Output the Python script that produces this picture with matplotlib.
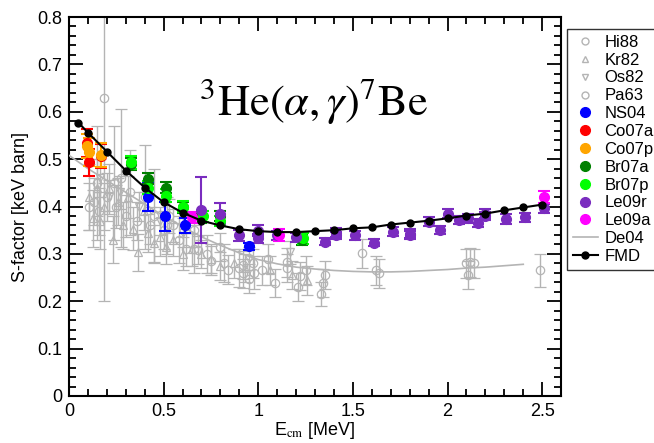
import matplotlib
matplotlib.use("Agg")
import matplotlib.pyplot as plt
from matplotlib.lines import Line2D
from matplotlib.ticker import MultipleLocator

plt.rcParams['font.family'] = ['Liberation Sans', 'DejaVu Sans']
plt.rcParams['mathtext.fontset'] = 'stix'

# --- older measurements (grey, open symbols) ---
hi88_E = [0.107, 0.13, 0.16, 0.20, 0.25, 0.30, 0.36, 0.43, 0.50, 0.53, 0.55, 0.62, 0.66,
          0.68, 0.75, 0.80, 0.84, 0.92, 0.92, 0.95, 0.97, 1.02, 1.05, 1.09, 1.15, 1.15,
          1.21, 1.22, 1.25, 1.33, 1.34, 1.35, 1.55, 1.62, 1.64, 2.10, 2.11, 2.12, 2.14, 2.49]
hi88_S = [0.40, 0.41, 0.39, 0.42, 0.40, 0.38, 0.37, 0.36, 0.35, 0.38, 0.36, 0.31, 0.35,
          0.308, 0.286, 0.314, 0.267, 0.276, 0.259, 0.248, 0.28, 0.265, 0.29, 0.238, 0.282, 0.27,
          0.23, 0.253, 0.265, 0.215, 0.238, 0.255, 0.301, 0.265, 0.259, 0.28, 0.255, 0.282, 0.28, 0.265]
hi88_err = [0.05, 0.05, 0.05, 0.05, 0.045, 0.045, 0.04, 0.04, 0.04, 0.035, 0.035, 0.035, 0.035,
            0.03, 0.03, 0.03, 0.03, 0.03, 0.03, 0.03, 0.03, 0.03, 0.03, 0.03, 0.03, 0.03,
            0.03, 0.03, 0.03, 0.025, 0.03, 0.03, 0.03, 0.03, 0.03, 0.03, 0.03, 0.03, 0.03, 0.035]

kr82_E = [0.107, 0.126, 0.148, 0.165, 0.186, 0.21, 0.235, 0.26, 0.285, 0.31, 0.34, 0.365,
          0.395, 0.42, 0.45, 0.48, 0.51, 0.55, 0.60, 0.65, 0.70, 0.75, 0.80, 0.87, 0.93,
          1.06, 1.18, 1.26]
kr82_S = [0.42, 0.375, 0.44, 0.37, 0.40, 0.44, 0.33, 0.41, 0.36, 0.42, 0.353, 0.303,
          0.39, 0.345, 0.322, 0.335, 0.314, 0.33, 0.30, 0.31, 0.30, 0.29, 0.275, 0.28, 0.27,
          0.265, 0.255, 0.244]
kr82_err = [0.07, 0.06, 0.06, 0.06, 0.05, 0.05, 0.05, 0.05, 0.05, 0.045, 0.045, 0.04,
            0.04, 0.04, 0.04, 0.04, 0.035, 0.035, 0.035, 0.035, 0.03, 0.03, 0.03, 0.03, 0.03,
            0.03, 0.03, 0.03]

os82_E = [0.165, 0.21, 0.27, 0.37, 0.48, 0.60, 0.95, 1.17]
os82_S = [0.46, 0.42, 0.43, 0.40, 0.37, 0.345, 0.29, 0.303]
os82_err = [0.04, 0.035, 0.035, 0.03, 0.03, 0.03, 0.025, 0.025]

pa63_E = [0.185, 0.148, 0.24, 0.275, 0.32, 0.40, 0.45, 0.52, 0.58, 0.66, 0.73, 0.82, 0.90, 0.98]
pa63_S = [0.63, 0.45, 0.45, 0.46, 0.43, 0.42, 0.38, 0.36, 0.33, 0.31, 0.30, 0.28, 0.27, 0.26]
pa63_err = [0.43, 0.12, 0.12, 0.145, 0.09, 0.11, 0.10, 0.06, 0.05, 0.05, 0.04, 0.04, 0.04, 0.035]

# --- modern measurements (coloured, filled symbols) ---
ns04_E = [0.42, 0.506, 0.615, 0.951]
ns04_S = [0.420, 0.379, 0.360, 0.316]
ns04_err = [0.03, 0.03, 0.015, 0.008]

co07a_E = [0.093, 0.106, 0.170]
co07a_S = [0.534, 0.493, 0.507]
co07a_err = [0.03, 0.028, 0.025]

co07p_E = [0.093, 0.106, 0.170]
co07p_S = [0.527, 0.515, 0.508]
co07p_err = [0.025, 0.03, 0.025]

br07a_E = [0.33, 0.42, 0.51, 0.60, 0.70, 0.80, 1.23]
br07a_S = [0.490, 0.459, 0.440, 0.398, 0.375, 0.380, 0.330]
br07a_err = [0.012, 0.012, 0.012, 0.011, 0.010, 0.010, 0.012]

br07p_E = [0.33, 0.42, 0.51, 0.60, 0.71, 0.80, 1.235]
br07p_S = [0.493, 0.440, 0.423, 0.400, 0.379, 0.370, 0.333]
br07p_err = [0.014, 0.014, 0.013, 0.012, 0.012, 0.011, 0.012]

le09r_E = [0.70, 0.80, 0.90, 1.00, 1.00, 1.10, 1.20, 1.35, 1.41, 1.41, 1.51, 1.61, 1.71,
           1.80, 1.80, 1.90, 1.96, 2.00, 2.06, 2.11, 2.16, 2.20, 2.20, 2.31, 2.41, 2.51]
le09r_S = [0.393, 0.385, 0.339, 0.349, 0.333, 0.339, 0.335, 0.326, 0.345, 0.339, 0.339,
           0.324, 0.347, 0.343, 0.340, 0.368, 0.350, 0.385, 0.372, 0.375, 0.365, 0.385,
           0.380, 0.374, 0.377, 0.396]
le09r_err = [0.07, 0.022, 0.012, 0.012, 0.01, 0.01, 0.01, 0.008, 0.01, 0.008, 0.01, 0.008,
             0.01, 0.01, 0.008, 0.01, 0.008, 0.01, 0.008, 0.01, 0.008, 0.01, 0.008, 0.01,
             0.01, 0.01]

le09a_E = [0.65, 1.11, 2.51]
le09a_S = [0.377, 0.340, 0.420]
le09a_err = [0.012, 0.012, 0.013]

# --- theory curves ---
de04_E = [0.0, 0.1, 0.2, 0.3, 0.4, 0.5, 0.6, 0.7, 0.8, 0.9, 1.0, 1.1, 1.2, 1.3, 1.4,
          1.5, 1.6, 1.7, 1.8, 1.9, 2.0, 2.1, 2.2, 2.3, 2.4]
de04_S = [0.508, 0.480, 0.455, 0.430, 0.405, 0.380, 0.357, 0.336, 0.318, 0.302, 0.288,
          0.279, 0.272, 0.268, 0.265, 0.263, 0.262, 0.262, 0.263, 0.265, 0.267, 0.270,
          0.272, 0.275, 0.278]

fmd_E = [0.05, 0.1, 0.2, 0.3, 0.4, 0.5, 0.6, 0.7, 0.8, 0.9, 1.0, 1.1, 1.2, 1.3, 1.4,
         1.5, 1.6, 1.7, 1.8, 1.9, 2.0, 2.1, 2.2, 2.3, 2.4, 2.5]
fmd_S = [0.577, 0.556, 0.516, 0.476, 0.440, 0.409, 0.387, 0.370, 0.360, 0.352, 0.348,
         0.346, 0.346, 0.348, 0.350, 0.354, 0.356, 0.362, 0.366, 0.370, 0.375, 0.381,
         0.385, 0.392, 0.398, 0.404]

GREY = '#b4b4b4'
FS = 13

fig = plt.figure(figsize=(6.54, 4.43), dpi=100)
ax = fig.add_axes([0.1055, 0.1061, 0.7525, 0.8555])

grey_sets = [(hi88_E, hi88_S, hi88_err, 'o'), (kr82_E, kr82_S, kr82_err, '^'),
             (os82_E, os82_S, os82_err, 'v'), (pa63_E, pa63_S, pa63_err, 'o')]
for E, S, err, m in grey_sets:
    ax.errorbar(E, S, yerr=err, fmt=m, ms=6, mfc='none', mec=GREY, mew=0.9,
                ecolor=GREY, elinewidth=1.0, capsize=4, capthick=1.0, zorder=2)

ax.plot(de04_E, de04_S, color=GREY, lw=1.2, zorder=3)

colour_sets = [(ns04_E, ns04_S, ns04_err, '#0000ff'),
               (co07a_E, co07a_S, co07a_err, '#ff0000'),
               (co07p_E, co07p_S, co07p_err, '#ffa500'),
               (br07a_E, br07a_S, br07a_err, '#008000'),
               (br07p_E, br07p_S, br07p_err, '#00ff00'),
               (le09r_E, le09r_S, le09r_err, '#7a2cbf'),
               (le09a_E, le09a_S, le09a_err, '#ff00ff')]
for E, S, err, c in colour_sets:
    ax.errorbar(E, S, yerr=err, fmt='o', ms=7, color=c, ecolor=c,
                elinewidth=1.5, capsize=4, capthick=1.5, zorder=4)

ax.plot(fmd_E, fmd_S, '-o', color='black', lw=1.5, ms=5, zorder=6)

ax.set_xlim(0, 2.6)
ax.set_ylim(0, 0.8)
ax.xaxis.set_minor_locator(MultipleLocator(0.1))
ax.yaxis.set_minor_locator(MultipleLocator(0.02))
ax.set_xticks([0, 0.5, 1, 1.5, 2, 2.5], ['0', '0.5', '1', '1.5', '2', '2.5'])
ax.set_yticks([0, 0.1, 0.2, 0.3, 0.4, 0.5, 0.6, 0.7, 0.8],
              ['0', '0.1', '0.2', '0.3', '0.4', '0.5', '0.6', '0.7', '0.8'])
ax.tick_params(which='both', direction='in', top=True, right=True, labelsize=FS, width=1.3)
ax.tick_params(which='major', length=10, pad=5)
ax.tick_params(which='minor', length=5)
for sp in ax.spines.values():
    sp.set_linewidth(1.5)

ax.set_xlabel(r'E$_{\rm cm}$ [MeV]', fontsize=FS, labelpad=0)
ax.set_ylabel('S-factor [keV barn]', fontsize=FS, labelpad=6)

ax.text(0.496, 0.778, r'$^{3}\mathrm{He}(\alpha,\gamma)^{7}\mathrm{Be}$',
        transform=ax.transAxes, fontsize=32, ha='center', va='center')

handles = [
    Line2D([], [], ls='none', marker='o', ms=5, mfc='none', mec=GREY),
    Line2D([], [], ls='none', marker='^', ms=5, mfc='none', mec=GREY),
    Line2D([], [], ls='none', marker='v', ms=5, mfc='none', mec=GREY),
    Line2D([], [], ls='none', marker='o', ms=5, mfc='none', mec=GREY),
]
for _, _, _, c in colour_sets:
    handles.append(Line2D([], [], ls='none', marker='o', ms=7, color=c))
handles.append(Line2D([], [], color=GREY, lw=1.2))
handles.append(Line2D([], [], color='black', lw=1.5, marker='o', ms=5))
labels = ['Hi88', 'Kr82', 'Os82', 'Pa63', 'NS04', 'Co07a', 'Co07p', 'Br07a',
          'Br07p', 'Le09r', 'Le09a', 'De04', 'FMD']

# the key sits to the right of the frame and runs up to the figure edge
leg = fig.legend(handles, labels, loc='upper left', bbox_to_anchor=(567 / 654, 1 - 29 / 443),
                 fontsize=12, frameon=True, fancybox=False, edgecolor='black',
                 labelspacing=0.17, handlelength=1.5, handletextpad=0.4,
                 borderpad=0.35, borderaxespad=0)
leg.get_frame().set_linewidth(1.0)

fig.savefig('out.png', dpi=100)
